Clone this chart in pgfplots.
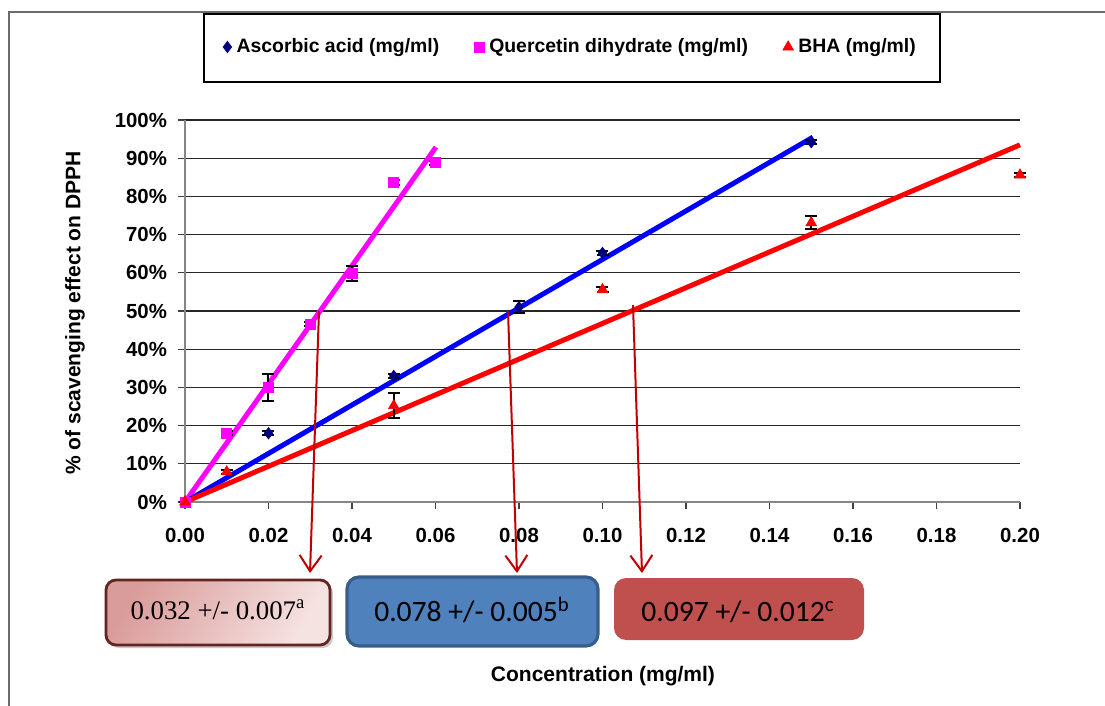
\documentclass[border=0pt]{standalone}
\usepackage{pgfplots}
\pgfplotsset{compat=1.18}
\usepackage{fontspec}
\setmainfont{Liberation Sans}
\newfontfamily\timesf{Liberation Serif}
\newfontfamily\calibrif{Carlito}
\usetikzlibrary{arrows.meta,shadows}

\definecolor{clrAsc}{HTML}{000080}
\definecolor{clrQue}{HTML}{FF00FF}
\definecolor{clrBha}{HTML}{FF0000}
\definecolor{clrArrow}{HTML}{C00000}
\definecolor{clrAxis}{HTML}{868686}
\definecolor{boxOneA}{HTML}{DA9C9A}
\definecolor{boxOneB}{HTML}{F5E3E2}
\definecolor{boxOneLine}{HTML}{632523}
\definecolor{boxTwo}{HTML}{4F81BD}
\definecolor{boxTwoLine}{HTML}{385D8A}
\definecolor{boxThree}{HTML}{C0504D}

\begin{document}
\begin{tikzpicture}
% pixel frame: (0,0) is the top-left corner of the picture
\begin{scope}[x=0.5pt,y=-0.5pt]
  \path[use as bounding box] (0,0) rectangle (1105,706);
  \draw[clrAxis!80!black, line width=0.8pt] (9,706) -- (9,12) -- (1105,12);
  \draw[black, line width=0.6pt] (204,14) rectangle (940,82);
\end{scope}

\begin{axis}[
    at={(92.5pt,-251pt)}, anchor=south west,
    scale only axis,
    width=417.5pt, height=191pt,
    xmin=0, xmax=0.2, ymin=0, ymax=100,
    axis x line=bottom, axis y line=left,
    axis line style={clrAxis, line width=0.7pt, -},
    xtick={0,0.02,...,0.201},
    ytick={0,10,...,100},
    tick align=outside,
    major tick length=3.5pt,
    tick style={black!75, line width=0.6pt},
    ymajorgrids,
    major grid style={black!85, line width=0.6pt},
    /pgf/number format/assume math mode=true,
    xticklabel={\pgfmathprintnumber[fixed,precision=2,zerofill]{\tick}},
    yticklabel={\pgfmathprintnumber{\tick}\%},
    ticklabel style={font=\fontsize{10.2}{12}\selectfont\bfseries},
    xticklabel style={yshift=-6pt},
    yticklabel style={xshift=-2pt},
    xlabel={Concentration (mg/ml)},
    ylabel={\% of scavenging effect on DPPH},
    every axis x label/.style={at={(axis description cs:0.5006,-0.4555)}, anchor=center, font=\fontsize{10.5}{12}\selectfont\bfseries},
    every axis y label/.style={at={(axis description cs:-0.1317,0.495)}, rotate=90, anchor=center, font=\fontsize{10.5}{12}\selectfont\bfseries},
    clip=false,
    legend columns=3,
    legend cell align=left,
    legend style={at={(axis description cs:0.4635,1.1911)}, anchor=center,
        draw=none, fill=none, font=\fontsize{9.7}{12}\selectfont\bfseries,
        /tikz/every even column/.append style={column sep=15pt},
        nodes={inner ysep=1pt, inner xsep=2.5pt}},
    legend image code/.code={\draw[mark repeat=2,mark phase=2,#1] plot coordinates {(0cm,0cm)(0.1cm,0cm)(0.2cm,0cm)};},
]
% linear trend lines
\addplot[clrQue, line width=2.5pt, forget plot] coordinates {(0,0) (0.0601,92.9)};
\addplot[blue, line width=2.5pt, forget plot] coordinates {(0,0) (0.1504,95.5)};
\addplot[clrBha, line width=2.5pt, forget plot] coordinates {(0,0) (0.2,93.5)};

% Ascorbic acid
\addplot[only marks, mark=diamond*, mark size=2.8pt, color=clrAsc,
    error bars/.cd, y dir=both, y explicit,
    error bar style={black, line width=1pt},
    error mark options={black, rotate=90, mark size=3pt, line width=1pt},
] coordinates {
    (0,0) +- (0,0)
    (0.02,18.0) +- (0,0.5)
    (0.05,33.0) +- (0,0.5)
    (0.08,51.0) +- (0,1.5)
    (0.10,65.2) +- (0,0.5)
    (0.15,94.2) +- (0,0.5)
};
% Quercetin dihydrate
\addplot[only marks, mark=square*, mark size=2.5pt, color=clrQue,
    error bars/.cd, y dir=both, y explicit,
    error bar style={black, line width=1pt},
    error mark options={black, rotate=90, mark size=3pt, line width=1pt},
] coordinates {
    (0,0) +- (0,0)
    (0.01,18.0) +- (0,0.5)
    (0.02,30.0) +- (0,3.5)
    (0.03,46.6) +- (0,0.6)
    (0.04,59.8) +- (0,2.0)
    (0.05,83.7) +- (0,0.6)
    (0.06,88.8) +- (0,0.5)
};
% BHA
\addplot[only marks, mark=triangle*, mark size=3pt, color=clrBha,
    error bars/.cd, y dir=both, y explicit,
    error bar style={black, line width=1pt},
    error mark options={black, rotate=90, mark size=3pt, line width=1pt},
] coordinates {
    (0,0) +- (0,0)
    (0.01,7.9) +- (0,0.5)
    (0.05,25.2) +- (0,3.3)
    (0.10,55.6) +- (0,0.6)
    (0.15,73.1) +- (0,1.7)
    (0.20,85.6) +- (0,0.5)
};
\legend{Ascorbic acid (mg/ml), Quercetin dihydrate (mg/ml), BHA (mg/ml)}
\end{axis}

\begin{scope}[x=0.5pt,y=-0.5pt]
  % IC50 read-off arrows
  \draw[clrArrow, line width=1pt, -{Straight Barb[length=8pt,width=11pt,line width=1pt]}] (319,311) -- (310,573);
  \draw[clrArrow, line width=1pt, -{Straight Barb[length=8pt,width=11pt,line width=1pt]}] (508,311) -- (517,573);
  \draw[clrArrow, line width=1pt, -{Straight Barb[length=8pt,width=11pt,line width=1pt]}] (633,305) -- (642,573);
  % IC50 boxes
  \draw[boxOneLine, line width=1.4pt, rounded corners=5pt,
        shading=axis, left color=boxOneA, right color=boxOneB, shading angle=60,
        drop shadow={shadow xshift=1.5pt, shadow yshift=-1.5pt, fill=black!35, opacity=0.6}]
     (106,580) rectangle (330,645);
  \node[font=\timesf\fontsize{13.4}{15}\selectfont] at (218,610) {0.032 +/- 0.007\textsuperscript{a}};
  \draw[boxTwoLine, fill=boxTwo, line width=1.6pt, rounded corners=6pt] (347,577) rectangle (598,646);
  \node[font=\calibrif\fontsize{14.8}{17}\selectfont] at (472,610) {0.078 +/- 0.005\textsuperscript{b}};
  \fill[boxThree, rounded corners=6pt] (614,578) rectangle (864,640);
  \node[font=\calibrif\fontsize{14.8}{17}\selectfont] at (738,612) {0.097 +/- 0.012\textsuperscript{c}};
\end{scope}
\end{tikzpicture}
\end{document}
